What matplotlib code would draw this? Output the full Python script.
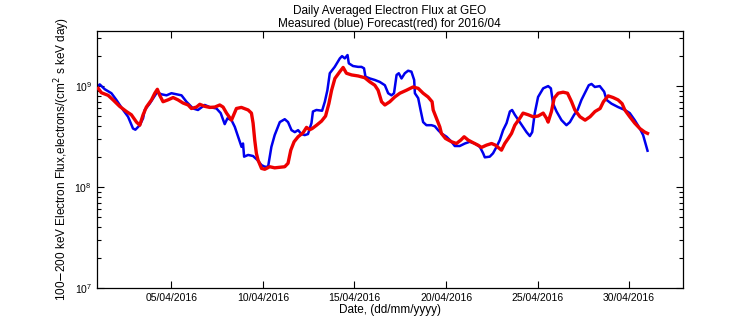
import numpy as np
import matplotlib
matplotlib.use("Agg")
import matplotlib.pyplot as plt
from matplotlib.ticker import FixedLocator, LogLocator, NullFormatter

plt.rcParams["font.family"] = ["Liberation Sans", "DejaVu Sans"]

# day of month (April 2016) and flux in units of 1e8
blue_day = [1.00, 1.08, 1.36, 1.72, 1.99, 2.36, 2.63, 2.90, 3.03, 3.27, 3.45, 3.54, 3.81, 4.18,
            4.27, 4.45, 4.73, 5.00, 5.27, 5.55, 5.82, 6.18, 6.45, 6.82, 7.09, 7.46, 7.69, 7.91,
            8.06, 8.28, 8.46, 8.64, 8.83, 8.91, 8.97, 9.19, 9.46, 9.70, 9.92, 10.10, 10.28,
            10.46, 10.64, 10.92, 11.19, 11.37, 11.56, 11.74, 11.92, 12.10, 12.28, 12.46, 12.65,
            12.73, 12.92, 13.23, 13.38, 13.52, 13.65, 13.92, 14.20, 14.32, 14.47, 14.62, 14.69,
            14.92, 15.20, 15.38, 15.52, 15.60, 15.84, 16.11, 16.38, 16.66, 16.84, 17.02, 17.16,
            17.30, 17.42, 17.57, 17.75, 17.93, 18.11, 18.26, 18.30, 18.48, 18.61, 18.75, 18.93,
            19.21, 19.39, 19.57, 19.75, 20.03, 20.30, 20.48, 20.75, 21.03, 21.30, 21.57, 21.85,
            22.03, 22.12, 22.39, 22.57, 22.76, 22.94, 23.12, 23.31, 23.49, 23.61, 23.76, 24.03,
            24.40, 24.58, 24.71, 24.85, 25.03, 25.31, 25.58, 25.73, 25.85, 26.04, 26.31, 26.58,
            26.77, 27.00, 27.19, 27.40, 27.62, 27.80, 27.95, 28.13, 28.40, 28.64, 28.77, 29.04,
            29.40, 29.77, 30.04, 30.31, 30.59, 30.77, 30.90, 31.01]
blue_flux = [10.0, 10.4, 9.3, 8.5, 7.3, 5.8, 4.97, 3.8, 3.7, 4.1, 4.8, 5.8, 6.7, 8.5,
             8.6, 8.3, 8.1, 8.5, 8.3, 8.1, 7.0, 6.0, 5.8, 6.5, 6.2, 6.0, 5.4, 4.2,
             4.8, 4.6, 3.95, 3.15, 2.5, 2.7, 2.0, 2.08, 2.03, 1.85, 1.65, 1.59, 1.59,
             2.5, 3.27, 4.4, 4.7, 4.4, 3.66, 3.5, 3.66, 3.35, 3.27, 3.35, 4.3,
             5.6, 5.8, 5.7, 7.0, 9.1, 13.4, 15.5, 18.8, 19.8, 18.8, 20.3, 16.8,
             15.8, 15.5, 15.5, 15.0, 12.4, 11.9, 11.5, 11.0, 10.2, 8.5, 8.1, 8.5,
             12.9, 13.4, 11.9, 13.4, 14.2, 13.9, 11.5, 8.5, 7.6, 5.8, 4.4, 4.1,
             4.1, 4.0, 3.66, 3.4, 3.15, 2.81, 2.55, 2.55, 2.7, 2.81, 2.7, 2.5,
             2.16, 1.97, 2.0, 2.16, 2.5, 2.92, 3.66, 4.3, 5.6, 5.8, 5.2, 4.4,
             3.5, 3.2, 3.5, 5.4, 7.8, 9.5, 10.0, 9.5, 6.7, 5.6, 4.6, 4.1,
             4.4, 5.2, 5.8, 7.3, 8.8, 10.2, 10.5, 9.8, 10.0, 8.8, 7.3, 6.7,
             6.2, 5.8, 5.4, 4.6, 3.8, 3.27, 2.7, 2.29]

red_day = [1.00, 1.17, 1.54, 1.81, 2.17, 2.54, 2.81, 3.09, 3.27, 3.45, 3.63, 3.91, 4.09, 4.23,
           4.36, 4.54, 4.81, 5.09, 5.36, 5.63, 5.91, 6.09, 6.37, 6.55, 6.82, 7.09, 7.37, 7.64,
           7.82, 8.01, 8.28, 8.55, 8.82, 9.19, 9.37, 9.46, 9.55, 9.64, 9.73, 9.92, 10.10,
           10.37, 10.64, 10.92, 11.19, 11.37, 11.52, 11.70, 11.92, 12.19, 12.38, 12.56, 12.69,
           12.93, 13.20, 13.42, 13.60, 13.75, 13.93, 14.20, 14.38, 14.56, 14.84, 15.20, 15.56,
           15.84, 16.11, 16.29, 16.48, 16.66, 16.93, 17.20, 17.48, 17.84, 18.20, 18.48, 18.75,
           19.02, 19.24, 19.30, 19.48, 19.66, 19.75, 19.97, 20.30, 20.57, 20.81, 20.99, 21.21,
           21.48, 21.75, 21.94, 22.21, 22.49, 22.70, 22.85, 23.03, 23.21, 23.40, 23.58, 23.76,
           24.03, 24.21, 24.49, 24.76, 25.03, 25.31, 25.49, 25.58, 25.76, 25.91, 26.13, 26.40,
           26.64, 26.86, 27.04, 27.32, 27.60, 27.87, 28.14, 28.42, 28.60, 28.86, 29.13, 29.40,
           29.62, 29.77, 30.04, 30.31, 30.59, 30.86, 31.01]
red_flux = [9.5, 8.6, 8.1, 7.3, 6.3, 5.6, 5.2, 4.4, 4.1, 5.2, 6.2, 7.3, 8.5, 9.3,
            8.1, 7.0, 7.3, 7.7, 7.3, 6.8, 6.5, 6.0, 6.2, 6.6, 6.3, 6.15, 6.2, 6.5,
            6.2, 5.4, 4.6, 6.0, 6.15, 5.8, 5.4, 4.3, 2.92, 2.16, 1.85, 1.53, 1.5,
            1.59, 1.55, 1.57, 1.59, 1.72, 2.32, 2.81, 3.15, 3.45, 3.9, 3.7, 3.8,
            4.1, 4.5, 5.05, 6.7, 9.1, 11.9, 13.9, 15.3, 13.4, 12.9, 12.6, 12.1,
            11.0, 10.2, 9.1, 7.0, 6.5, 7.0, 7.8, 8.5, 9.1, 9.8, 9.5, 8.5,
            7.8, 7.0, 5.8, 4.8, 3.95, 3.4, 3.03, 2.81, 2.7, 2.92, 3.15, 2.92,
            2.75, 2.6, 2.47, 2.6, 2.7, 2.6, 2.47, 2.32, 2.7, 3.03, 3.4, 4.1,
            4.8, 5.4, 5.2, 4.97, 5.05, 5.4, 4.8, 4.4, 5.6, 7.6, 8.5, 8.7,
            8.5, 7.0, 5.8, 4.97, 4.6, 4.97, 5.6, 6.0, 7.0, 8.0, 7.7, 7.3,
            6.7, 5.8, 4.97, 4.3, 3.8, 3.5, 3.4]

tick_days = [5, 10, 15, 20, 25, 30]
tick_labels = ["05/04/2016", "10/04/2016", "15/04/2016", "20/04/2016", "25/04/2016", "30/04/2016"]

fig = plt.figure(figsize=(7.56, 3.24), dpi=100)
ax = fig.add_axes([0.128, 0.111, 0.775, 0.794])

ax.plot(blue_day, np.array(blue_flux) * 1e8, "-", color="#0000ee", lw=1.8, zorder=2)
ax.plot(red_day, np.array(red_flux) * 1e8, "-", color="#ee0000", lw=2.4, zorder=3)

ax.set_yscale("log")
ax.set_ylim(1e7, 3.53e9)
ax.set_xlim(0.92, 32.93)
ax.xaxis.set_major_locator(FixedLocator(tick_days))
ax.set_xticklabels(tick_labels)
ax.yaxis.set_major_locator(LogLocator(base=10, numticks=10))
ax.yaxis.set_minor_locator(LogLocator(base=10, subs=np.arange(2, 10), numticks=10))
ax.yaxis.set_minor_formatter(NullFormatter())
ax.tick_params(axis="both", which="both", direction="in", top=True, right=True,
               labelsize=7.5, width=0.8)
ax.tick_params(axis="both", which="major", length=5)
ax.tick_params(axis="y", which="minor", length=3)
for s in ax.spines.values():
    s.set_linewidth(0.9)

ax.set_title("Daily Averaged Electron Flux at GEO\nMeasured (blue) Forecast(red) for 2016/04",
             fontsize=8.5, pad=3, linespacing=1.05)
ax.set_xlabel("Date, (dd/mm/yyyy)", fontsize=8.5, labelpad=1)
ax.set_ylabel(r"100$-$200 keV Electron Flux,electrons/(cm$^2$ s keV day)", fontsize=8.5, labelpad=2)

fig.savefig("out.png", dpi=100, facecolor="white")
